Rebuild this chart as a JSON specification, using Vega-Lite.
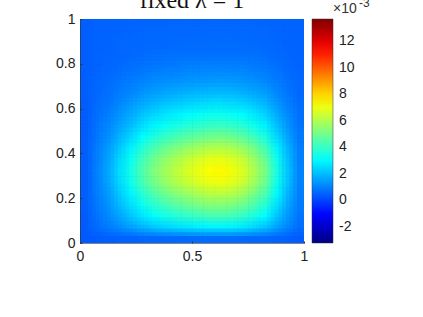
{"$schema":"https://vega.github.io/schema/vega-lite/v6.json","width":224,"height":224,"autosize":"none","padding":{"left":80,"top":19,"right":119,"bottom":74},"background":"white",
"config":{"view":{"stroke":null,"fill":"#0060ff"},"axis":{"grid":false}},
"data":{"values":[
{"x":0.025,"y":0.025,"v":0.42},{"x":0.075,"y":0.025,"v":0.46},{"x":0.125,"y":0.025,"v":0.5},{"x":0.175,"y":0.025,"v":0.54},{"x":0.225,"y":0.025,"v":0.58},{"x":0.275,"y":0.025,"v":0.62},{"x":0.325,"y":0.025,"v":0.65},{"x":0.375,"y":0.025,"v":0.67},{"x":0.425,"y":0.025,"v":0.69},{"x":0.475,"y":0.025,"v":0.7},{"x":0.525,"y":0.025,"v":0.72},{"x":0.575,"y":0.025,"v":0.72},{"x":0.625,"y":0.025,"v":0.73},{"x":0.675,"y":0.025,"v":0.72},{"x":0.725,"y":0.025,"v":0.7},{"x":0.775,"y":0.025,"v":0.67},{"x":0.825,"y":0.025,"v":0.64},{"x":0.875,"y":0.025,"v":0.58},{"x":0.925,"y":0.025,"v":0.52},{"x":0.975,"y":0.025,"v":0.47},
{"x":0.025,"y":0.075,"v":0.45},{"x":0.075,"y":0.075,"v":0.75},{"x":0.125,"y":0.075,"v":0.97},{"x":0.175,"y":0.075,"v":1.29},{"x":0.225,"y":0.075,"v":1.6},{"x":0.275,"y":0.075,"v":1.95},{"x":0.325,"y":0.075,"v":2.22},{"x":0.375,"y":0.075,"v":2.44},{"x":0.425,"y":0.075,"v":2.61},{"x":0.475,"y":0.075,"v":2.76},{"x":0.525,"y":0.075,"v":2.88},{"x":0.575,"y":0.075,"v":2.98},{"x":0.625,"y":0.075,"v":3.0},{"x":0.675,"y":0.075,"v":2.93},{"x":0.725,"y":0.075,"v":2.78},{"x":0.775,"y":0.075,"v":2.51},{"x":0.825,"y":0.075,"v":2.19},{"x":0.875,"y":0.075,"v":1.63},{"x":0.925,"y":0.075,"v":1.14},{"x":0.975,"y":0.075,"v":0.75},
{"x":0.025,"y":0.125,"v":0.47},{"x":0.075,"y":0.125,"v":0.85},{"x":0.125,"y":0.125,"v":1.2},{"x":0.175,"y":0.125,"v":1.69},{"x":0.225,"y":0.125,"v":2.19},{"x":0.275,"y":0.125,"v":2.72},{"x":0.325,"y":0.125,"v":3.14},{"x":0.375,"y":0.125,"v":3.48},{"x":0.425,"y":0.125,"v":3.75},{"x":0.475,"y":0.125,"v":3.98},{"x":0.525,"y":0.125,"v":4.17},{"x":0.575,"y":0.125,"v":4.32},{"x":0.625,"y":0.125,"v":4.36},{"x":0.675,"y":0.125,"v":4.25},{"x":0.725,"y":0.125,"v":4.02},{"x":0.775,"y":0.125,"v":3.6},{"x":0.825,"y":0.125,"v":3.1},{"x":0.875,"y":0.125,"v":2.23},{"x":0.925,"y":0.125,"v":1.46},{"x":0.975,"y":0.125,"v":0.85},
{"x":0.025,"y":0.175,"v":0.48},{"x":0.075,"y":0.175,"v":0.94},{"x":0.125,"y":0.175,"v":1.37},{"x":0.175,"y":0.175,"v":2.0},{"x":0.225,"y":0.175,"v":2.63},{"x":0.275,"y":0.175,"v":3.3},{"x":0.325,"y":0.175,"v":3.83},{"x":0.375,"y":0.175,"v":4.27},{"x":0.425,"y":0.175,"v":4.61},{"x":0.475,"y":0.175,"v":4.9},{"x":0.525,"y":0.175,"v":5.14},{"x":0.575,"y":0.175,"v":5.33},{"x":0.625,"y":0.175,"v":5.38},{"x":0.675,"y":0.175,"v":5.24},{"x":0.725,"y":0.175,"v":4.95},{"x":0.775,"y":0.175,"v":4.41},{"x":0.825,"y":0.175,"v":3.79},{"x":0.875,"y":0.175,"v":2.68},{"x":0.925,"y":0.175,"v":1.71},{"x":0.975,"y":0.175,"v":0.94},
{"x":0.025,"y":0.225,"v":0.49},{"x":0.075,"y":0.225,"v":1.01},{"x":0.125,"y":0.225,"v":1.52},{"x":0.175,"y":0.225,"v":2.26},{"x":0.225,"y":0.225,"v":3.01},{"x":0.275,"y":0.225,"v":3.8},{"x":0.325,"y":0.225,"v":4.43},{"x":0.375,"y":0.225,"v":4.95},{"x":0.425,"y":0.225,"v":5.35},{"x":0.475,"y":0.225,"v":5.69},{"x":0.525,"y":0.225,"v":5.97},{"x":0.575,"y":0.225,"v":6.2},{"x":0.625,"y":0.225,"v":6.26},{"x":0.675,"y":0.225,"v":6.09},{"x":0.725,"y":0.225,"v":5.75},{"x":0.775,"y":0.225,"v":5.12},{"x":0.825,"y":0.225,"v":4.38},{"x":0.875,"y":0.225,"v":3.06},{"x":0.925,"y":0.225,"v":1.92},{"x":0.975,"y":0.225,"v":1.01},
{"x":0.025,"y":0.275,"v":0.5},{"x":0.075,"y":0.275,"v":1.07},{"x":0.125,"y":0.275,"v":1.66},{"x":0.175,"y":0.275,"v":2.51},{"x":0.225,"y":0.275,"v":3.36},{"x":0.275,"y":0.275,"v":4.27},{"x":0.325,"y":0.275,"v":4.99},{"x":0.375,"y":0.275,"v":5.58},{"x":0.425,"y":0.275,"v":6.04},{"x":0.475,"y":0.275,"v":6.43},{"x":0.525,"y":0.275,"v":6.75},{"x":0.575,"y":0.275,"v":7.01},{"x":0.625,"y":0.275,"v":7.08},{"x":0.675,"y":0.275,"v":6.88},{"x":0.725,"y":0.275,"v":6.49},{"x":0.775,"y":0.275,"v":5.77},{"x":0.825,"y":0.275,"v":4.93},{"x":0.875,"y":0.275,"v":3.42},{"x":0.925,"y":0.275,"v":2.12},{"x":0.975,"y":0.275,"v":1.07},
{"x":0.025,"y":0.325,"v":0.5},{"x":0.075,"y":0.325,"v":1.09},{"x":0.125,"y":0.325,"v":1.71},{"x":0.175,"y":0.325,"v":2.59},{"x":0.225,"y":0.325,"v":3.47},{"x":0.275,"y":0.325,"v":4.43},{"x":0.325,"y":0.325,"v":5.17},{"x":0.375,"y":0.325,"v":5.79},{"x":0.425,"y":0.325,"v":6.26},{"x":0.475,"y":0.325,"v":6.67},{"x":0.525,"y":0.325,"v":7.01},{"x":0.575,"y":0.325,"v":7.28},{"x":0.625,"y":0.325,"v":7.35},{"x":0.675,"y":0.325,"v":7.15},{"x":0.725,"y":0.325,"v":6.74},{"x":0.775,"y":0.325,"v":5.99},{"x":0.825,"y":0.325,"v":5.11},{"x":0.875,"y":0.325,"v":3.54},{"x":0.925,"y":0.325,"v":2.18},{"x":0.975,"y":0.325,"v":1.09},
{"x":0.025,"y":0.375,"v":0.5},{"x":0.075,"y":0.375,"v":1.06},{"x":0.125,"y":0.375,"v":1.64},{"x":0.175,"y":0.375,"v":2.47},{"x":0.225,"y":0.375,"v":3.3},{"x":0.275,"y":0.375,"v":4.19},{"x":0.325,"y":0.375,"v":4.9},{"x":0.375,"y":0.375,"v":5.47},{"x":0.425,"y":0.375,"v":5.92},{"x":0.475,"y":0.375,"v":6.3},{"x":0.525,"y":0.375,"v":6.62},{"x":0.575,"y":0.375,"v":6.88},{"x":0.625,"y":0.375,"v":6.94},{"x":0.675,"y":0.375,"v":6.75},{"x":0.725,"y":0.375,"v":6.36},{"x":0.775,"y":0.375,"v":5.66},{"x":0.825,"y":0.375,"v":4.83},{"x":0.875,"y":0.375,"v":3.36},{"x":0.925,"y":0.375,"v":2.08},{"x":0.975,"y":0.375,"v":1.06},
{"x":0.025,"y":0.425,"v":0.49},{"x":0.075,"y":0.425,"v":1.0},{"x":0.125,"y":0.425,"v":1.5},{"x":0.175,"y":0.425,"v":2.22},{"x":0.225,"y":0.425,"v":2.95},{"x":0.275,"y":0.425,"v":3.73},{"x":0.325,"y":0.425,"v":4.34},{"x":0.375,"y":0.425,"v":4.85},{"x":0.425,"y":0.425,"v":5.24},{"x":0.475,"y":0.425,"v":5.57},{"x":0.525,"y":0.425,"v":5.85},{"x":0.575,"y":0.425,"v":6.07},{"x":0.625,"y":0.425,"v":6.13},{"x":0.675,"y":0.425,"v":5.96},{"x":0.725,"y":0.425,"v":5.63},{"x":0.775,"y":0.425,"v":5.01},{"x":0.825,"y":0.425,"v":4.29},{"x":0.875,"y":0.425,"v":3.0},{"x":0.925,"y":0.425,"v":1.89},{"x":0.975,"y":0.425,"v":1.0},
{"x":0.025,"y":0.475,"v":0.48},{"x":0.075,"y":0.475,"v":0.91},{"x":0.125,"y":0.475,"v":1.31},{"x":0.175,"y":0.475,"v":1.9},{"x":0.225,"y":0.475,"v":2.48},{"x":0.275,"y":0.475,"v":3.11},{"x":0.325,"y":0.475,"v":3.6},{"x":0.375,"y":0.475,"v":4.0},{"x":0.425,"y":0.475,"v":4.32},{"x":0.475,"y":0.475,"v":4.59},{"x":0.525,"y":0.475,"v":4.82},{"x":0.575,"y":0.475,"v":4.99},{"x":0.625,"y":0.475,"v":5.04},{"x":0.675,"y":0.475,"v":4.91},{"x":0.725,"y":0.475,"v":4.64},{"x":0.775,"y":0.475,"v":4.14},{"x":0.825,"y":0.475,"v":3.56},{"x":0.875,"y":0.475,"v":2.53},{"x":0.925,"y":0.475,"v":1.63},{"x":0.975,"y":0.475,"v":0.91},
{"x":0.025,"y":0.525,"v":0.47},{"x":0.075,"y":0.525,"v":0.83},{"x":0.125,"y":0.525,"v":1.15},{"x":0.175,"y":0.525,"v":1.61},{"x":0.225,"y":0.525,"v":2.07},{"x":0.275,"y":0.525,"v":2.57},{"x":0.325,"y":0.525,"v":2.96},{"x":0.375,"y":0.525,"v":3.28},{"x":0.425,"y":0.525,"v":3.52},{"x":0.475,"y":0.525,"v":3.74},{"x":0.525,"y":0.525,"v":3.91},{"x":0.575,"y":0.525,"v":4.05},{"x":0.625,"y":0.525,"v":4.09},{"x":0.675,"y":0.525,"v":3.98},{"x":0.725,"y":0.525,"v":3.77},{"x":0.775,"y":0.525,"v":3.38},{"x":0.825,"y":0.525,"v":2.92},{"x":0.875,"y":0.525,"v":2.11},{"x":0.925,"y":0.525,"v":1.4},{"x":0.975,"y":0.525,"v":0.83},
{"x":0.025,"y":0.575,"v":0.46},{"x":0.075,"y":0.575,"v":0.77},{"x":0.125,"y":0.575,"v":1.02},{"x":0.175,"y":0.575,"v":1.39},{"x":0.225,"y":0.575,"v":1.75},{"x":0.275,"y":0.575,"v":2.14},{"x":0.325,"y":0.575,"v":2.45},{"x":0.375,"y":0.575,"v":2.7},{"x":0.425,"y":0.575,"v":2.89},{"x":0.475,"y":0.575,"v":3.06},{"x":0.525,"y":0.575,"v":3.2},{"x":0.575,"y":0.575,"v":3.31},{"x":0.625,"y":0.575,"v":3.34},{"x":0.675,"y":0.575,"v":3.26},{"x":0.725,"y":0.575,"v":3.09},{"x":0.775,"y":0.575,"v":2.78},{"x":0.825,"y":0.575,"v":2.42},{"x":0.875,"y":0.575,"v":1.78},{"x":0.925,"y":0.575,"v":1.22},{"x":0.975,"y":0.575,"v":0.77},
{"x":0.025,"y":0.625,"v":0.47},{"x":0.075,"y":0.625,"v":0.71},{"x":0.125,"y":0.625,"v":0.9},{"x":0.175,"y":0.625,"v":1.16},{"x":0.225,"y":0.625,"v":1.43},{"x":0.275,"y":0.625,"v":1.71},{"x":0.325,"y":0.625,"v":1.94},{"x":0.375,"y":0.625,"v":2.12},{"x":0.425,"y":0.625,"v":2.26},{"x":0.475,"y":0.625,"v":2.39},{"x":0.525,"y":0.625,"v":2.49},{"x":0.575,"y":0.625,"v":2.57},{"x":0.625,"y":0.625,"v":2.59},{"x":0.675,"y":0.625,"v":2.53},{"x":0.725,"y":0.625,"v":2.41},{"x":0.775,"y":0.625,"v":2.18},{"x":0.825,"y":0.625,"v":1.92},{"x":0.875,"y":0.625,"v":1.45},{"x":0.925,"y":0.625,"v":1.04},{"x":0.975,"y":0.625,"v":0.71},
{"x":0.025,"y":0.675,"v":0.48},{"x":0.075,"y":0.675,"v":0.66},{"x":0.125,"y":0.675,"v":0.79},{"x":0.175,"y":0.675,"v":0.98},{"x":0.225,"y":0.675,"v":1.16},{"x":0.275,"y":0.675,"v":1.37},{"x":0.325,"y":0.675,"v":1.52},{"x":0.375,"y":0.675,"v":1.65},{"x":0.425,"y":0.675,"v":1.75},{"x":0.475,"y":0.675,"v":1.84},{"x":0.525,"y":0.675,"v":1.91},{"x":0.575,"y":0.675,"v":1.97},{"x":0.625,"y":0.675,"v":1.98},{"x":0.675,"y":0.675,"v":1.94},{"x":0.725,"y":0.675,"v":1.85},{"x":0.775,"y":0.675,"v":1.69},{"x":0.825,"y":0.675,"v":1.51},{"x":0.875,"y":0.675,"v":1.18},{"x":0.925,"y":0.675,"v":0.89},{"x":0.975,"y":0.675,"v":0.66},
{"x":0.025,"y":0.725,"v":0.48},{"x":0.075,"y":0.725,"v":0.63},{"x":0.125,"y":0.725,"v":0.71},{"x":0.175,"y":0.725,"v":0.84},{"x":0.225,"y":0.725,"v":0.96},{"x":0.275,"y":0.725,"v":1.09},{"x":0.325,"y":0.725,"v":1.2},{"x":0.375,"y":0.725,"v":1.28},{"x":0.425,"y":0.725,"v":1.35},{"x":0.475,"y":0.725,"v":1.41},{"x":0.525,"y":0.725,"v":1.45},{"x":0.575,"y":0.725,"v":1.49},{"x":0.625,"y":0.725,"v":1.5},{"x":0.675,"y":0.725,"v":1.47},{"x":0.725,"y":0.725,"v":1.41},{"x":0.775,"y":0.725,"v":1.31},{"x":0.825,"y":0.725,"v":1.19},{"x":0.875,"y":0.725,"v":0.97},{"x":0.925,"y":0.725,"v":0.78},{"x":0.975,"y":0.725,"v":0.63},
{"x":0.025,"y":0.775,"v":0.49},{"x":0.075,"y":0.775,"v":0.6},{"x":0.125,"y":0.775,"v":0.65},{"x":0.175,"y":0.775,"v":0.73},{"x":0.225,"y":0.775,"v":0.81},{"x":0.275,"y":0.775,"v":0.9},{"x":0.325,"y":0.775,"v":0.96},{"x":0.375,"y":0.775,"v":1.02},{"x":0.425,"y":0.775,"v":1.06},{"x":0.475,"y":0.775,"v":1.1},{"x":0.525,"y":0.775,"v":1.13},{"x":0.575,"y":0.775,"v":1.15},{"x":0.625,"y":0.775,"v":1.16},{"x":0.675,"y":0.775,"v":1.14},{"x":0.725,"y":0.775,"v":1.11},{"x":0.775,"y":0.775,"v":1.04},{"x":0.825,"y":0.775,"v":0.96},{"x":0.875,"y":0.775,"v":0.82},{"x":0.925,"y":0.775,"v":0.7},{"x":0.975,"y":0.775,"v":0.6},
{"x":0.025,"y":0.825,"v":0.5},{"x":0.075,"y":0.825,"v":0.58},{"x":0.125,"y":0.825,"v":0.61},{"x":0.175,"y":0.825,"v":0.65},{"x":0.225,"y":0.825,"v":0.7},{"x":0.275,"y":0.825,"v":0.74},{"x":0.325,"y":0.825,"v":0.78},{"x":0.375,"y":0.825,"v":0.81},{"x":0.425,"y":0.825,"v":0.84},{"x":0.475,"y":0.825,"v":0.86},{"x":0.525,"y":0.825,"v":0.87},{"x":0.575,"y":0.825,"v":0.89},{"x":0.625,"y":0.825,"v":0.89},{"x":0.675,"y":0.825,"v":0.88},{"x":0.725,"y":0.825,"v":0.86},{"x":0.775,"y":0.825,"v":0.82},{"x":0.825,"y":0.825,"v":0.78},{"x":0.875,"y":0.825,"v":0.7},{"x":0.925,"y":0.825,"v":0.63},{"x":0.975,"y":0.825,"v":0.58},
{"x":0.025,"y":0.875,"v":0.5},{"x":0.075,"y":0.875,"v":0.57},{"x":0.125,"y":0.875,"v":0.58},{"x":0.175,"y":0.875,"v":0.61},{"x":0.225,"y":0.875,"v":0.64},{"x":0.275,"y":0.875,"v":0.66},{"x":0.325,"y":0.875,"v":0.69},{"x":0.375,"y":0.875,"v":0.7},{"x":0.425,"y":0.875,"v":0.72},{"x":0.475,"y":0.875,"v":0.73},{"x":0.525,"y":0.875,"v":0.74},{"x":0.575,"y":0.875,"v":0.75},{"x":0.625,"y":0.875,"v":0.75},{"x":0.675,"y":0.875,"v":0.74},{"x":0.725,"y":0.875,"v":0.73},{"x":0.775,"y":0.875,"v":0.71},{"x":0.825,"y":0.875,"v":0.68},{"x":0.875,"y":0.875,"v":0.64},{"x":0.925,"y":0.875,"v":0.6},{"x":0.975,"y":0.875,"v":0.57},
{"x":0.025,"y":0.925,"v":0.5},{"x":0.075,"y":0.925,"v":0.56},{"x":0.125,"y":0.925,"v":0.57},{"x":0.175,"y":0.925,"v":0.59},{"x":0.225,"y":0.925,"v":0.61},{"x":0.275,"y":0.925,"v":0.63},{"x":0.325,"y":0.925,"v":0.65},{"x":0.375,"y":0.925,"v":0.66},{"x":0.425,"y":0.925,"v":0.67},{"x":0.475,"y":0.925,"v":0.68},{"x":0.525,"y":0.925,"v":0.68},{"x":0.575,"y":0.925,"v":0.69},{"x":0.625,"y":0.925,"v":0.69},{"x":0.675,"y":0.925,"v":0.69},{"x":0.725,"y":0.925,"v":0.68},{"x":0.775,"y":0.925,"v":0.66},{"x":0.825,"y":0.925,"v":0.64},{"x":0.875,"y":0.925,"v":0.61},{"x":0.925,"y":0.925,"v":0.58},{"x":0.975,"y":0.925,"v":0.56},
{"x":0.025,"y":0.975,"v":0.5},{"x":0.075,"y":0.975,"v":0.56},{"x":0.125,"y":0.975,"v":0.56},{"x":0.175,"y":0.975,"v":0.57},{"x":0.225,"y":0.975,"v":0.58},{"x":0.275,"y":0.975,"v":0.59},{"x":0.325,"y":0.975,"v":0.6},{"x":0.375,"y":0.975,"v":0.6},{"x":0.425,"y":0.975,"v":0.61},{"x":0.475,"y":0.975,"v":0.61},{"x":0.525,"y":0.975,"v":0.62},{"x":0.575,"y":0.975,"v":0.62},{"x":0.625,"y":0.975,"v":0.62},{"x":0.675,"y":0.975,"v":0.62},{"x":0.725,"y":0.975,"v":0.61},{"x":0.775,"y":0.975,"v":0.61},{"x":0.825,"y":0.975,"v":0.6},{"x":0.875,"y":0.975,"v":0.58},{"x":0.925,"y":0.975,"v":0.57},{"x":0.975,"y":0.975,"v":0.56}
]},
"encoding":{
"color":{"field":"v","type":"quantitative","aggregate":"mean","scale":{"interpolate":"rgb","domain":[-3.2,-1.1,3.1,7.3,11.5,13.65],"range":["#000080","#0000ff","#00ffff","#ffff00","#ff0000","#800000"]},
"legend":{"orient":"none","legendX":232,"legendY":0,"direction":"vertical","gradientLength":224,"gradientThickness":21,"gradientStrokeColor":"#333","gradientStrokeWidth":0.5,"values":[-2,0,2,4,6,8,10,12],"labelExpr":"replace(datum.label,'−','-')","labelFont":"Liberation Sans","labelFontSize":14,"labelColor":"#222","labelOffset":6,"title":null,"gradientOpacity":1,"encoding":{"gradient":{"opacity":{"value":1}}}}}
},
"layer":[
{"mark":{"type":"rect","binSpacing":0,"clip":true},"encoding":{
"x":{"field":"x","type":"quantitative","bin":{"step":0.05,"extent":[0,1]},"scale":{"domain":[0,1],"nice":false},"axis":{"title":null,"values":[0,0.5,1],"format":"~g","labelFont":"Liberation Sans","labelFontSize":14,"labelColor":"#222","labelPadding":8,"labelFlush":false,"tickSize":-2,"tickColor":"#333","domainColor":"#333","domainWidth":0.6,"grid":false,"zindex":1,"labelAngle":0}},
"y":{"field":"y","type":"quantitative","bin":{"step":0.05,"extent":[0,1]},"scale":{"domain":[0,1],"nice":false},"axis":{"title":null,"values":[0,0.2,0.4,0.6,0.8,1],"format":"~g","labelFont":"Liberation Sans","labelFontSize":14,"labelColor":"#222","labelPadding":7,"labelFlush":false,"tickSize":-2,"tickColor":"#333","domainColor":"#333","domainWidth":0.6,"grid":false,"zindex":1}}}},
{"mark":{"type":"rect","binSpacing":0,"clip":true,"opacity":0.5},"encoding":{
"x":{"field":"x","type":"quantitative","bin":{"step":0.05,"extent":[-0.05,1.05],"anchor":0.0167}},
"y":{"field":"y","type":"quantitative","bin":{"step":0.05,"extent":[-0.05,1.05],"anchor":0.0333}}}},
{"mark":{"type":"rect","binSpacing":0,"clip":true,"opacity":0.3333},"encoding":{
"x":{"field":"x","type":"quantitative","bin":{"step":0.05,"extent":[-0.05,1.05],"anchor":0.0333}},
"y":{"field":"y","type":"quantitative","bin":{"step":0.05,"extent":[-0.05,1.05],"anchor":0.0167}}}},
{"mark":{"type":"rect","binSpacing":0,"clip":true,"opacity":0.25},"encoding":{
"x":{"field":"x","type":"quantitative","bin":{"step":0.05,"extent":[-0.05,1.05],"anchor":0.0167}},
"y":{"field":"y","type":"quantitative","bin":{"step":0.05,"extent":[-0.05,1.05],"anchor":0.0167}}}},
{"mark":{"type":"rect","binSpacing":0,"clip":true,"opacity":0.2},"encoding":{
"x":{"field":"x","type":"quantitative","bin":{"step":0.05,"extent":[-0.05,1.05],"anchor":0.0333}},
"y":{"field":"y","type":"quantitative","bin":{"step":0.05,"extent":[-0.05,1.05],"anchor":0.0333}}}},
{"mark":{"type":"rect","binSpacing":0,"clip":true,"opacity":0.1667},"encoding":{
"x":{"field":"x","type":"quantitative","bin":{"step":0.05,"extent":[-0.05,1.05],"anchor":0.05}},
"y":{"field":"y","type":"quantitative","bin":{"step":0.05,"extent":[-0.05,1.05],"anchor":0.0167}}}},
{"mark":{"type":"rect","binSpacing":0,"clip":true,"opacity":0.1429},"encoding":{
"x":{"field":"x","type":"quantitative","bin":{"step":0.05,"extent":[-0.05,1.05],"anchor":0.05}},
"y":{"field":"y","type":"quantitative","bin":{"step":0.05,"extent":[-0.05,1.05],"anchor":0.0333}}}},
{"mark":{"type":"rect","binSpacing":0,"clip":true,"opacity":0.125},"encoding":{
"x":{"field":"x","type":"quantitative","bin":{"step":0.05,"extent":[-0.05,1.05],"anchor":0.0167}},
"y":{"field":"y","type":"quantitative","bin":{"step":0.05,"extent":[-0.05,1.05],"anchor":0.05}}}},
{"mark":{"type":"rect","binSpacing":0,"clip":true,"opacity":0.1111},"encoding":{
"x":{"field":"x","type":"quantitative","bin":{"step":0.05,"extent":[-0.05,1.05],"anchor":0.0333}},
"y":{"field":"y","type":"quantitative","bin":{"step":0.05,"extent":[-0.05,1.05],"anchor":0.05}}}},
{"mark":{"type":"text","align":"center","baseline":"alphabetic","font":"Liberation Serif","fontSize":24},"data":{"values":[{"px":0.5,"py":1.049,"label":"fixed λ = 1"}]},"encoding":{"color":{"value":"#111"},"x":{"field":"px","type":"quantitative"},"y":{"field":"py","type":"quantitative"},"text":{"field":"label"}}},
{"mark":{"type":"text","align":"left","baseline":"alphabetic","font":"Liberation Sans","fontSize":14},"data":{"values":[{"px":1.13,"py":1.029,"label":"×10"}]},"encoding":{"color":{"value":"#333"},"x":{"field":"px","type":"quantitative"},"y":{"field":"py","type":"quantitative"},"text":{"field":"label"}}},
{"mark":{"type":"text","align":"left","baseline":"alphabetic","font":"Liberation Sans","fontSize":12},"data":{"values":[{"px":1.245,"py":1.054,"label":"-3"}]},"encoding":{"color":{"value":"#333"},"x":{"field":"px","type":"quantitative"},"y":{"field":"py","type":"quantitative"},"text":{"field":"label"}}}
]}
